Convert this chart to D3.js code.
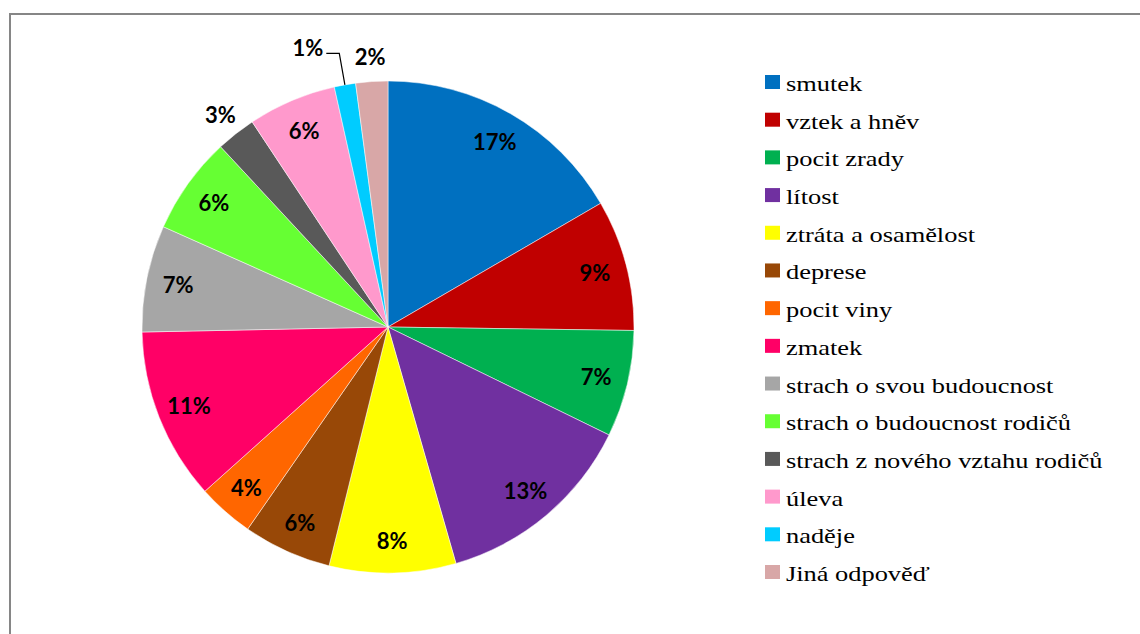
<!DOCTYPE html>
<html><head><meta charset="utf-8">
<script src="https://cdn.jsdelivr.net/npm/d3@7"></script>
<style>html,body{margin:0;padding:0;background:#fff;}svg{display:block;}</style>
</head><body>
<svg id="c" width="1140" height="634"></svg>
<script>
const categories = ["smutek","vztek a hněv","pocit zrady","lítost","ztráta a osamělost","deprese","pocit viny","zmatek","strach o svou budoucnost","strach o budoucnost rodičů","strach z nového vztahu rodičů","úleva","naděje","Jiná odpověď"];
const values = [16.6, 8.6, 7.0, 13.3, 8.3, 5.8, 3.7, 11.3, 7.0, 6.4, 2.6, 5.8, 1.4, 2.1];
const colors = ["#0070C0","#C00000","#00B050","#7030A0","#FFFF00","#984807","#FF6600","#FF0066","#A6A6A6","#66FF33","#595959","#FF99CC","#00CCFF","#D8A7A7"];

const svg = d3.select("#c");
svg.append("rect").attr("x",10).attr("y",14).attr("width",1160).attr("height",700)
  .attr("fill","none").attr("stroke","#868686").attr("stroke-width",2);

const cx = 388, cy = 327, R = 246;
const total = d3.sum(values);
const data = categories.map((c,i)=>({name:c, value:values[i], color:colors[i]}));
const pie = d3.pie().value(d=>d.value).sort(null).startAngle(0).endAngle(2*Math.PI);
const arcs = pie(data);
const arc = d3.arc().innerRadius(0).outerRadius(R);
const g = svg.append("g").attr("transform",`translate(${cx},${cy})`);
g.selectAll("path").data(arcs).join("path")
  .attr("d",arc).attr("fill",d=>d.data.color).attr("stroke","#fff").attr("stroke-width",0.5);

const pct = v => Math.round(v/total*100) + "%";
const pt = (a, r) => [Math.sin(a)*r, -Math.cos(a)*r];
arcs.forEach(d=>{
  const share = d.data.value/total*100;
  const mid = (d.startAngle+d.endAngle)/2;
  let x, y, anchor = "middle";
  if (share < 2) {
    const p0 = pt(mid, R);
    const p1 = pt(mid, R + 32);
    const p2 = [p1[0]-13, p1[1]];
    g.append("path").attr("d", d3.line()([p0,p1,p2])).attr("fill","none").attr("stroke","#000").attr("stroke-width",1.2);
    x = p2[0]-3; y = p2[1]-6; anchor = "end";
  } else if (share < 3) {
    [x,y] = pt(mid, R + 25);
  } else {
    [x,y] = pt(mid, 214);
  }
  g.append("text").attr("x",x).attr("y",y).attr("text-anchor",anchor)
    .attr("dominant-baseline","central").attr("fill","#000")
    .attr("font-family","Lato").attr("font-weight","bold").attr("font-size",22)
    .text(pct(d.data.value));
});

const ly = d3.scalePoint().domain(categories).range([82, 572]);
const lg = svg.append("g");
categories.forEach((c,i)=>{
  const y = ly(c);
  lg.append("rect").attr("x",765).attr("y",y-7).attr("width",15).attr("height",14).attr("fill",colors[i]);
  lg.append("text").attr("transform",`translate(786,${y+9}) scale(1.2,1)`).attr("fill","#000")
    .attr("font-family","Liberation Serif").attr("font-size",22)
    .text(c);
});
</script>
</body></html>
